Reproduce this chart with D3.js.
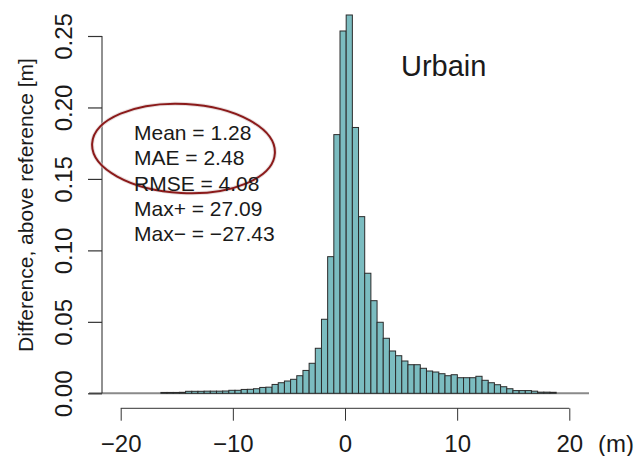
<!DOCTYPE html>
<html>
<head>
<meta charset="utf-8">
<script src="https://cdn.jsdelivr.net/npm/d3@7"></script>
<style>
html,body{margin:0;padding:0;background:#fff;}
svg{display:block;}
text{font-family:"Liberation Sans",Arial,sans-serif;fill:#1a1a1a;}
</style>
</head>
<body>
<svg id="chart" width="640" height="456"></svg>
<script>
// ---- data ----
const minDiff = -27.43;           // Max−
const maxDiff = 27.09;            // Max+
const nBreaks = 100;              // number of histogram breaks
const firstBin = 20;              // index of first visible bin
const density = [
  0.0006,0.0006,0.0006,0.0007,0.0014,0.0014,0.0014,0.0015,0.0015,0.0015,
  0.0016,0.0021,0.0021,0.0027,0.0028,0.0032,0.0041,0.0043,0.0062,0.0074,
  0.0086,0.0098,0.0123,0.0160,0.0210,0.0315,0.0518,0.0956,0.1810,0.2535,
  0.2647,0.1860,0.1236,0.0840,0.0648,0.0497,0.0385,0.0296,0.0263,0.0226,
  0.0200,0.0200,0.0175,0.0156,0.0149,0.0137,0.0123,0.0130,0.0109,0.0109,
  0.0109,0.0119,0.0091,0.0074,0.0060,0.0046,0.0032,0.0019,0.0019,0.0019,
  0.0015,0.0008,0.0008,0.0007
];
const xTicks = [-20,-10,0,10,20];
const yTicks = [0,0.05,0.10,0.15,0.20,0.25];
const statLines = ["Mean = 1.28","MAE = 2.48","RMSE = 4.08","Max+ = 27.09","Max\u2212 = \u221227.43"];
const title = "Urbain";
const yLabel = "Difference, above reference [m]";
const xUnit = "(m)";

// ---- layout ----
const svg = d3.select("#chart");
const x = d3.scaleLinear().domain([-20,20]).range([120.7,569.3]);
const y = d3.scaleLinear().domain([0,0.25]).range([393.3,36]);
const binW = (maxDiff - minDiff)/(nBreaks-1);
const bins = density.map((d,i)=>({x0:minDiff+(firstBin+i)*binW, x1:minDiff+(firstBin+i+1)*binW, d}));

// baseline
svg.append("line").attr("x1",89).attr("x2",589).attr("y1",y(0)).attr("y2",y(0))
  .attr("stroke","#8a8a8a").attr("stroke-width",2);

// bars
svg.append("g").selectAll("rect").data(bins).join("rect")
  .attr("x",b=>x(b.x0)).attr("width",b=>x(b.x1)-x(b.x0))
  .attr("y",b=>y(b.d)).attr("height",b=>y(0)-y(b.d))
  .attr("fill","#7bbcc0").attr("stroke","#2b2b2b").attr("stroke-width",1);

// y axis
const yAxis = d3.axisLeft(y).tickValues(yTicks).tickFormat(d3.format(".2f")).tickSize(14).tickPadding(0);
const gy = svg.append("g").attr("transform","translate(102,0)").call(yAxis);
gy.select(".domain").attr("stroke","#222").attr("d",`M0,${y(0.25)}V${y(0)}`);
gy.selectAll(".tick line").attr("stroke","#333").attr("stroke-width",1.2);
gy.selectAll(".tick text").attr("font-size",24).attr("fill","#1a1a1a")
  .attr("font-family","Liberation Sans, Arial, sans-serif")
  .attr("text-anchor","middle").attr("dy",0).attr("x",null).attr("y",0)
  .attr("transform","translate(-30,0) rotate(-90)");

// x axis
const xAxis = d3.axisBottom(x).tickValues(xTicks).tickFormat(d=>d<0?"\u2212"+Math.abs(d):d).tickSize(12.4).tickPadding(14);
const gx = svg.append("g").attr("transform","translate(0,408.3)").call(xAxis);
gx.select(".domain").attr("stroke","#333").attr("d",`M${x(-20)},0H${x(20)}`);
gx.selectAll(".tick line").attr("stroke","#333");
gx.selectAll(".tick text").attr("font-size",24).attr("fill","#1a1a1a")
  .attr("font-family","Liberation Sans, Arial, sans-serif");

svg.append("text").attr("x",598).attr("y",452).attr("font-size",24).text(xUnit);

// y label
svg.append("text").attr("transform","translate(33,205) rotate(-90)")
  .attr("text-anchor","middle").attr("font-size",21).text(yLabel);

// title
svg.append("text").attr("x",401).attr("y",76).attr("font-size",29)
  .attr("font-family","Lato, 'Noto Sans', sans-serif").attr("font-weight",400).text(title);

// ellipse
svg.append("ellipse").attr("cx",183.5).attr("cy",148.5).attr("rx",91.5).attr("ry",44.5)
  .attr("transform","rotate(3,183.5,148.5)")
  .attr("fill","none").attr("stroke","#d9c8c8").attr("stroke-width",4).attr("opacity",0.6);
svg.append("ellipse").attr("cx",183.5).attr("cy",148.5).attr("rx",91.5).attr("ry",44.5)
  .attr("transform","rotate(3,183.5,148.5)")
  .attr("fill","none").attr("stroke","#8b1a1a").attr("stroke-width",2);

// stats
svg.append("g").selectAll("text").data(statLines).join("text")
  .attr("x",134).attr("y",(d,i)=>140+i*25.3).attr("font-size",21).text(d=>d);
</script>
</body>
</html>
